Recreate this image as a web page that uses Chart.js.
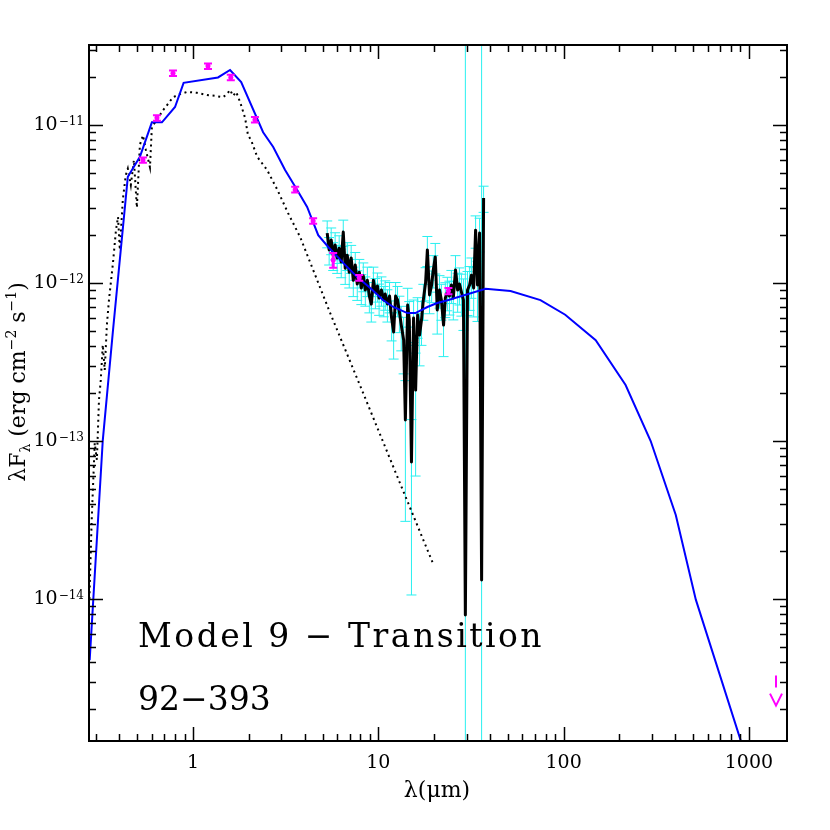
<!DOCTYPE html>
<html>
<head>
<meta charset="utf-8">
<script src="https://cdn.jsdelivr.net/npm/chart.js@4.4.1/dist/chart.umd.min.js"></script>
<style>
  html, body { margin: 0; padding: 0; background: #fff; }
  #wrap { width: 830px; height: 830px; }
</style>
</head>
<body>
<div id="wrap"><canvas id="sedChart" width="830" height="830"></canvas></div>
<script>
// photometry (micron, erg cm-2 s-1)
const photLam  = [0.537, 0.639, 0.78, 1.205, 1.60, 2.16, 3.56, 4.45, 5.71, 7.89, 23.9];
const photFlux = [6.0e-12, 1.11e-11, 2.13e-11, 2.36e-11, 2.0e-11, 1.08e-11, 3.9e-12, 2.47e-12, 1.40e-12, 1.08e-12, 8.9e-13];
const photErr  = [0.24e-12, 0.45e-12, 0.85e-12, 0.95e-12, 0.8e-12, 0.43e-12, 0.16e-12, 0.1e-12, 0.15e-12, 0.045e-12, 0.04e-12];

// upper limit (mm)
const limLam  = [1400];
const limFlux = [3.0e-15];

// model SED (blue)
const modelLam  = [0.277, 0.326, 0.370, 0.445, 0.517, 0.600, 0.680, 0.80, 0.89, 1.365,
                   1.585, 1.82, 2.39, 2.71, 3.14, 3.65, 4.13, 4.74, 5.37, 6.47,
                   7.70, 9.05, 10.6, 12.05, 14.35, 15.85, 18.4, 20.8, 23.9, 37.9,
                   51.7, 75, 102, 149, 216, 295, 403, 517, 905];
const modelFlux = [4.1e-15, 1.01e-13, 5.0e-13, 4.7e-12, 6.3e-12, 1.04e-11, 1.04e-11, 1.3e-11, 1.85e-11, 2.0e-11,
                   2.23e-11, 1.87e-11, 9.0e-12, 7.26e-12, 5.19e-12, 3.88e-12, 3.03e-12, 2.01e-12, 1.69e-12, 1.34e-12,
                   1.09e-12, 9.3e-13, 7.8e-13, 7.05e-13, 6.45e-13, 6.45e-13, 7.05e-13, 7.47e-13, 7.8e-13, 9.2e-13,
                   8.9e-13, 7.8e-13, 6.3e-13, 4.35e-13, 2.26e-13, 1.0e-13, 3.4e-14, 9.9e-15, 1.26e-15];

// stellar photosphere (dotted)
const starLam  = [0.276, 0.284, 0.295, 0.303, 0.311, 0.318, 0.326, 0.334, 0.343, 0.352,
                  0.370, 0.384, 0.394, 0.403, 0.418, 0.434, 0.445, 0.462, 0.480, 0.498,
                  0.517, 0.537, 0.557, 0.586, 0.600, 0.639, 0.689, 0.733, 0.78, 0.851,
                  0.929, 1.05, 1.19, 1.315, 1.45, 1.527, 1.585, 1.645, 1.71, 1.795,
                  1.91, 1.98, 2.06, 2.22, 2.51, 2.85, 3.26, 3.79, 5.5, 8.3,
                  12.7, 19.6];
const starFlux = [1.0e-14, 3.16e-14, 9.7e-14, 7.6e-14, 1.82e-13, 2.43e-13, 4.06e-13, 2.81e-13, 5.42e-13, 7.8e-13,
                  1.34e-12, 2.16e-12, 2.62e-12, 1.62e-12, 3.35e-12, 4.83e-12, 5.3e-12, 4.17e-12, 6.0e-12, 3.0e-12,
                  7.5e-12, 8.6e-12, 6.95e-12, 5.4e-12, 9.7e-12, 1.08e-11, 1.24e-11, 1.36e-11, 1.5e-11, 1.57e-11,
                  1.62e-11, 1.6e-11, 1.55e-11, 1.53e-11, 1.5e-11, 1.57e-11, 1.67e-11, 1.53e-11, 1.62e-11, 1.4e-11,
                  1.11e-11, 8.65e-12, 8.0e-12, 6.3e-12, 5.2e-12, 3.9e-12, 2.77e-12, 1.95e-12, 6.45e-13, 2.0e-13,
                  5.9e-14, 1.71e-14];

// IRS spectrum (black) with errors (cyan)
const specLam  = [5.30, 5.43, 5.57, 5.71, 5.85, 6.00, 6.15, 6.31, 6.47, 6.63,
                  6.80, 6.97, 7.14, 7.33, 7.51, 7.70, 7.90, 8.10, 8.30, 8.51,
                  8.73, 8.95, 9.17, 9.41, 9.65, 9.89, 10.1, 10.4, 10.7, 10.9,
                  11.2, 11.5, 11.8, 12.1, 12.4, 12.7, 13.0, 13.3, 13.7, 14.0,
                  14.4, 14.7, 15.1, 15.5, 15.9, 16.3, 16.7, 17.1, 17.5, 18.0,
                  18.4, 18.9, 19.4, 19.8, 20.3, 20.8, 21.4, 21.9, 22.5, 23.0,
                  23.6, 24.2, 24.8, 25.4, 26.1, 26.8, 27.4, 28.1, 28.8, 29.5,
                  30.3, 31.1, 31.8, 32.7, 33.5, 34.3, 35.2, 36.1, 37.0];
const specFlux = [2.07e-12, 1.62e-12, 1.87e-12, 1.50e-12, 1.74e-12, 1.44e-12, 1.66e-12, 1.36e-12, 2.10e-12, 1.24e-12,
                  1.50e-12, 1.17e-12, 1.44e-12, 1.04e-12, 1.30e-12, 9.86e-13, 1.17e-12, 9.30e-13, 1.11e-12, 9.03e-13,
                  1.04e-12, 8.27e-13, 7.36e-13, 1.04e-12, 8.77e-13, 9.57e-13, 8.04e-13, 9.03e-13, 7.81e-13, 8.52e-13,
                  7.36e-13, 8.27e-13, 6.00e-13, 4.90e-13, 8.27e-13, 7.81e-13, 6.55e-13, 5.42e-13, 4.36e-13, 1.36e-13,
                  7.26e-13, 5.83e-13, 7.36e-14, 6.00e-13, 2.10e-13, 6.27e-13, 4.69e-13, 5.83e-13, 7.81e-13, 1.01e-12,
                  1.62e-12, 8.39e-13, 9.71e-13, 1.21e-12, 1.46e-12, 6.75e-13, 9.03e-13, 7.81e-13, 5.42e-13, 8.04e-13,
                  8.77e-13, 8.27e-13, 9.71e-13, 8.04e-13, 1.21e-12, 9.03e-13, 9.86e-13, 8.77e-13, 7.81e-13, 7.92e-15,
                  9.03e-13, 9.71e-13, 1.12e-12, 9.30e-13, 2.16e-12, 9.71e-13, 2.07e-12, 1.32e-14, 3.45e-12];
const specErr  = [0.40e-12, 0.32e-12, 0.36e-12, 0.30e-12, 0.34e-12, 0.29e-12, 0.33e-12, 0.28e-12, 0.40e-12, 0.26e-12,
                  0.30e-12, 0.24e-12, 0.29e-12, 0.22e-12, 0.26e-12, 0.21e-12, 0.24e-12, 0.20e-12, 0.23e-12, 0.19e-12,
                  0.22e-12, 0.18e-12, 0.17e-12, 0.22e-12, 0.19e-12, 0.20e-12, 0.18e-12, 0.19e-12, 0.17e-12, 0.18e-12,
                  0.17e-12, 0.18e-12, 0.17e-12, 0.16e-12, 0.18e-12, 0.17e-12, 0.17e-12, 0.17e-12, 0.17e-12, 0.105e-12,
                  0.20e-12, 0.18e-12, 0.063e-12, 0.18e-12, 0.15e-12, 0.18e-12, 0.17e-12, 0.18e-12, 0.20e-12, 0.24e-12,
                  0.35e-12, 0.20e-12, 0.22e-12, 0.28e-12, 0.32e-12, 0.20e-12, 0.21e-12, 0.20e-12, 0.20e-12, 0.20e-12,
                  0.21e-12, 0.20e-12, 0.23e-12, 0.22e-12, 0.28e-12, 0.25e-12, 0.26e-12, 0.26e-12, 0.28e-12, 40e-12,
                  0.28e-12, 0.30e-12, 0.32e-12, 0.32e-12, 0.50e-12, 0.40e-12, 0.50e-12, 40e-12, 0.65e-12];

// axis ticks
const xTicks = [0.3, 0.4, 0.5, 0.6, 0.7, 0.8, 0.9, 1, 2, 3, 4, 5, 6, 7, 8, 9, 10,
                20, 30, 40, 50, 60, 70, 80, 90, 100, 200, 300, 400, 500, 600, 700, 800, 900, 1000];
const yTicks = [2e-15, 3e-15, 4e-15, 5e-15, 6e-15, 7e-15, 8e-15, 9e-15, 1e-14,
                2e-14, 3e-14, 4e-14, 5e-14, 6e-14, 7e-14, 8e-14, 9e-14, 1e-13,
                2e-13, 3e-13, 4e-13, 5e-13, 6e-13, 7e-13, 8e-13, 9e-13, 1e-12,
                2e-12, 3e-12, 4e-12, 5e-12, 6e-12, 7e-12, 8e-12, 9e-12, 1e-11, 2e-11, 3e-11];
const xLabels = [1, 10, 100, 1000];
const yLabels = [1e-11, 1e-12, 1e-13, 1e-14];

const toPts = (xs, ys) => xs.map((v, i) => ({ x: v, y: ys[i] }));
const isDecade = v => Math.abs(Math.log10(v) - Math.round(Math.log10(v))) < 1e-6;
const SERIF = '"DejaVu Serif", serif';

const sedPlugin = {
  id: 'sedPlugin',
  beforeDatasetsDraw(chart) {
    const { ctx, chartArea: a, scales: { x, y } } = chart;
    ctx.save();
    ctx.beginPath();
    ctx.rect(a.left, a.top, a.right - a.left, a.bottom - a.top);
    ctx.clip();
    // cyan error bars of the spectrum
    ctx.strokeStyle = 'rgb(40,240,240)';
    ctx.lineWidth = 1;
    specLam.forEach((l, i) => {
      const px = x.getPixelForValue(l);
      const hi = specFlux[i] + specErr[i];
      const lo = specFlux[i] - specErr[i];
      const yHi = y.getPixelForValue(hi);
      const yLo = lo > 0 ? y.getPixelForValue(lo) : a.bottom + 5;
      ctx.beginPath();
      ctx.moveTo(px, yHi); ctx.lineTo(px, yLo);
      ctx.moveTo(px - 5, yHi); ctx.lineTo(px + 5, yHi);
      if (lo > 0) { ctx.moveTo(px - 5, yLo); ctx.lineTo(px + 5, yLo); }
      ctx.stroke();
    });
    ctx.restore();
  },
  afterDatasetsDraw(chart) {
    const { ctx, scales: { x, y } } = chart;
    ctx.save();
    ctx.strokeStyle = '#ff00ff';
    // photometry error bars
    photLam.forEach((l, i) => {
      const px = x.getPixelForValue(l);
      const yHi = y.getPixelForValue(photFlux[i] + photErr[i]);
      const yLo = y.getPixelForValue(photFlux[i] - photErr[i]);
      ctx.lineWidth = 3;
      ctx.beginPath(); ctx.moveTo(px, yHi); ctx.lineTo(px, yLo); ctx.stroke();
      ctx.lineWidth = 2;
      ctx.beginPath();
      ctx.moveTo(px - 4, yHi); ctx.lineTo(px + 4, yHi);
      ctx.moveTo(px - 4, yLo); ctx.lineTo(px + 4, yLo);
      ctx.stroke();
    });
    // upper limit
    limLam.forEach((l, i) => {
      const px = x.getPixelForValue(l);
      const py = y.getPixelForValue(limFlux[i]);
      ctx.lineWidth = 2;
      ctx.beginPath();
      ctx.moveTo(px, py - 6); ctx.lineTo(px, py + 6);
      ctx.moveTo(px - 6, py + 12); ctx.lineTo(px, py + 24); ctx.lineTo(px + 6, py + 12);
      ctx.stroke();
    });
    ctx.restore();
  },
  afterDraw(chart) {
    const { ctx, chartArea: a, scales: { x, y } } = chart;
    ctx.save();
    ctx.strokeStyle = '#000';
    ctx.fillStyle = '#000';
    // frame
    ctx.lineWidth = 2;
    ctx.strokeRect(a.left, a.top, a.right - a.left, a.bottom - a.top);
    // inward ticks
    ctx.lineWidth = 1.5;
    ctx.beginPath();
    xTicks.forEach(v => {
      const px = Math.round(x.getPixelForValue(v)) + 0.5;
      const len = isDecade(v) ? 14 : 7;
      ctx.moveTo(px, a.bottom); ctx.lineTo(px, a.bottom - len);
      ctx.moveTo(px, a.top); ctx.lineTo(px, a.top + len);
    });
    yTicks.forEach(v => {
      const py = Math.round(y.getPixelForValue(v)) + 0.5;
      const len = isDecade(v) ? 14 : 7;
      ctx.moveTo(a.left, py); ctx.lineTo(a.left + len, py);
      ctx.moveTo(a.right, py); ctx.lineTo(a.right - len, py);
    });
    ctx.stroke();

    // x tick labels
    ctx.font = '19px ' + SERIF;
    ctx.textAlign = 'center';
    ctx.textBaseline = 'alphabetic';
    xLabels.forEach(v => {
      ctx.fillText(String(v), x.getPixelForValue(v), a.bottom + 27);
    });

    // y tick labels 10^n
    ctx.textAlign = 'left';
    yLabels.forEach(v => {
      const py = y.getPixelForValue(v);
      const exp = '\u2212' + String(-Math.round(Math.log10(v)));
      ctx.font = '19px ' + SERIF;
      const wBase = ctx.measureText('10').width;
      ctx.font = '12px ' + SERIF;
      const wExp = ctx.measureText(exp).width;
      const x0 = 83 - wBase - wExp;
      ctx.font = '19px ' + SERIF;
      ctx.fillText('10', x0, py + 5);
      ctx.font = '12px ' + SERIF;
      ctx.fillText(exp, x0 + wBase + 1, py);
    });

    // x axis title
    ctx.font = '22px ' + SERIF;
    ctx.textAlign = 'center';
    ctx.fillText('\u03bb(\u03bcm)', 437, 797);

    // y axis title with sub/superscripts
    const parts = [
      { t: '\u03bbF', s: 22, dy: 0 },
      { t: '\u03bb', s: 14, dy: 5 },
      { t: ' (erg cm', s: 22, dy: 0 },
      { t: '\u22122', s: 14, dy: -9 },
      { t: ' s', s: 22, dy: 0 },
      { t: '\u22121', s: 14, dy: -9 },
      { t: ')', s: 22, dy: 0 }
    ];
    let total = 0;
    parts.forEach(p => { ctx.font = p.s + 'px ' + SERIF; p.w = ctx.measureText(p.t).width; total += p.w; });
    ctx.translate(25, 382);
    ctx.rotate(-Math.PI / 2);
    ctx.textAlign = 'left';
    let cx = -total / 2;
    parts.forEach(p => {
      ctx.font = p.s + 'px ' + SERIF;
      ctx.fillText(p.t, cx, p.dy);
      cx += p.w;
    });
    ctx.setTransform(1, 0, 0, 1, 0, 0);

    // annotations
    ctx.font = '33px ' + SERIF;
    ctx.textAlign = 'left';
    ctx.letterSpacing = '2.5px';
    ctx.fillText('Model 9 \u2212 Transition', 138, 647);
    ctx.letterSpacing = '0px';
    ctx.fillText('92\u2212393', 138, 710);
    ctx.restore();
  }
};

const ctx = document.getElementById('sedChart').getContext('2d');
const sedChart = new Chart(ctx, {
  type: 'scatter',
  data: {
    datasets: [
      {
        label: 'Photometry',
        data: toPts(photLam, photFlux),
        backgroundColor: '#ff00ff',
        borderColor: '#ff00ff',
        pointRadius: 2.5,
        borderWidth: 0
      },
      {
        label: 'Model',
        data: toPts(modelLam, modelFlux),
        showLine: true,
        borderColor: '#0000ff',
        borderWidth: 2,
        pointRadius: 0
      },
      {
        label: 'IRS',
        data: toPts(specLam, specFlux),
        showLine: true,
        borderColor: '#000000',
        borderWidth: 3,
        borderJoinStyle: 'round',
        pointRadius: 0
      },
      {
        label: 'Photosphere',
        data: toPts(starLam, starFlux),
        showLine: true,
        borderColor: '#000000',
        borderWidth: 2,
        borderDash: [2, 3.7],
        pointRadius: 0
      }
    ]
  },
  options: {
    responsive: false,
    animation: false,
    layout: { padding: { left: 89, right: 43, top: 45, bottom: 89 } },
    plugins: { legend: { display: false }, tooltip: { enabled: false } },
    scales: {
      x: { type: 'logarithmic', display: false, min: 0.2747, max: 1605 },
      y: { type: 'logarithmic', display: false, min: 1.262e-15, max: 3.21e-11 }
    }
  },
  plugins: [sedPlugin]
});
</script>
</body>
</html>
